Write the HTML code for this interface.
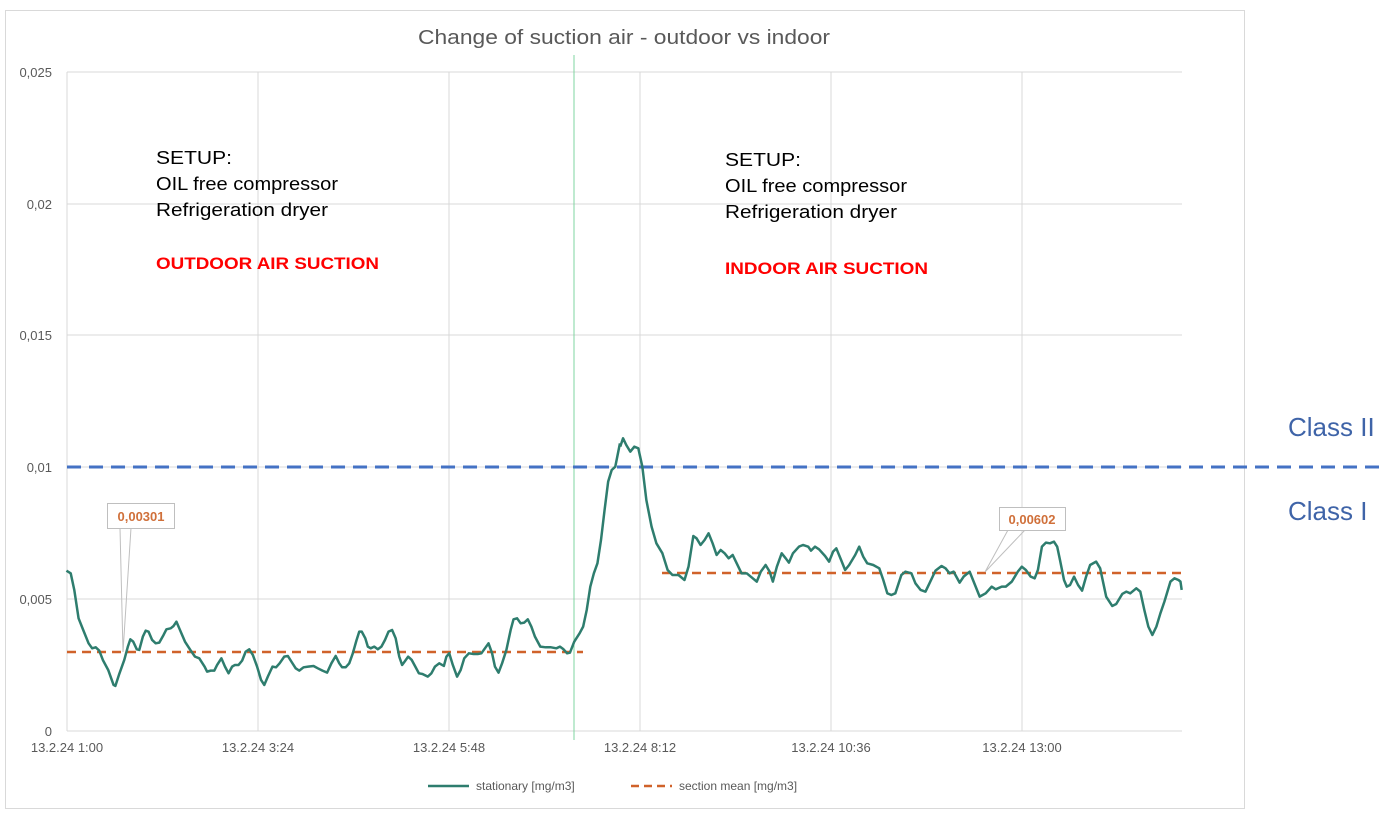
<!DOCTYPE html>
<html><head><meta charset="utf-8"><style>
body{margin:0;background:#fff;width:1390px;height:815px;overflow:hidden;font-family:"Liberation Sans",sans-serif}
</style></head><body>
<svg width="1390" height="815" xmlns="http://www.w3.org/2000/svg" font-family="Liberation Sans, sans-serif">
<rect x="5.5" y="10.5" width="1239" height="798" fill="#fff" stroke="#d9d9d9"/>
<text x="418" y="44" font-size="20" fill="#595959" textLength="412" lengthAdjust="spacingAndGlyphs">Change of suction air - outdoor vs indoor</text>
<g stroke="#d9d9d9" stroke-width="1">
<line x1="67" y1="72" x2="1182" y2="72"/><line x1="67" y1="204" x2="1182" y2="204"/><line x1="67" y1="335" x2="1182" y2="335"/><line x1="67" y1="467" x2="1182" y2="467"/><line x1="67" y1="599" x2="1182" y2="599"/><line x1="67" y1="731" x2="1182" y2="731"/>
<line x1="67" y1="72" x2="67" y2="731"/><line x1="258" y1="72" x2="258" y2="731"/><line x1="449" y1="72" x2="449" y2="731"/><line x1="640" y1="72" x2="640" y2="731"/><line x1="831" y1="72" x2="831" y2="731"/><line x1="1022" y1="72" x2="1022" y2="731"/>
</g>
<line x1="574" y1="55" x2="574" y2="740" stroke="#7fd4a0" stroke-width="1"/>
<g font-size="13" fill="#595959" text-anchor="end">
<text x="52" y="77">0,025</text><text x="52" y="209">0,02</text><text x="52" y="340">0,015</text><text x="52" y="472">0,01</text><text x="52" y="604">0,005</text><text x="52" y="736">0</text>
</g>
<g font-size="13" fill="#595959" text-anchor="middle">
<text x="67" y="752">13.2.24 1:00</text><text x="258" y="752">13.2.24 3:24</text><text x="449" y="752">13.2.24 5:48</text><text x="640" y="752">13.2.24 8:12</text><text x="831" y="752">13.2.24 10:36</text><text x="1022" y="752">13.2.24 13:00</text>
</g>
<line x1="67" y1="467" x2="1380" y2="467" stroke="#4472c4" stroke-width="3" stroke-dasharray="14,8"/>
<line x1="67" y1="652" x2="583" y2="652" stroke="#d0622a" stroke-width="2.5" stroke-dasharray="9,6"/>
<line x1="662" y1="573" x2="1182" y2="573" stroke="#d0622a" stroke-width="2.5" stroke-dasharray="9,6"/>
<g fill="none" stroke="#2e7d6e" stroke-width="2.5" stroke-linejoin="round">
<polyline vector-effect="non-scaling-stroke" transform="translate(60,400) scale(0.3571,0.3333)" points="18,512 30,520 40,570 52,655 65,690 80,730 90,745 100,742 110,752 120,780 135,810 150,855 155,858 165,825 180,780 190,740 197,718 205,725 215,748 222,750 232,710 240,692 248,695 258,720 268,730 278,728 290,705 298,688 310,685 318,678 326,665 334,685 342,705 350,725 365,750 378,770 390,775 405,800 412,815 422,812 432,812 440,795 452,775 462,800 472,820 482,800 490,795 500,795 510,782 520,755 530,748 540,765 552,800 563,840 572,855 582,830 595,800 605,802 615,790 628,770 638,768 648,785 660,805 670,812 682,802 695,800 710,798 722,805 735,812 748,818 760,790 772,768 782,790 790,802 800,802 810,790 820,760 830,722 838,695 845,695 855,715 862,740 870,745 880,740 890,748 900,740 910,720 920,695 930,690 940,715 950,770 958,795 965,785 975,770 985,780 995,800 1005,820 1015,822 1030,830 1040,820 1050,800 1062,790 1075,798 1082,770 1090,760 1100,795 1112,830 1122,810 1132,775 1145,760 1158,762 1170,762 1180,760 1190,745 1200,730 1210,760 1218,800 1228,818 1238,790 1250,750 1262,690 1270,658 1280,655 1290,670 1300,668 1310,658 1320,680 1330,710 1345,740 1360,742 1375,742 1390,745 1400,740 1410,748 1420,760 1428,758 1440,725 1455,700 1465,680 1475,630 1485,560 1495,520 1505,490 1515,420 1525,330 1535,245 1545,210 1555,200 1568,130"/>
<polyline vector-effect="non-scaling-stroke" transform="translate(560,400) scale(0.4016,0.3333)" points="150,140 157,115 165,135 175,155 185,140 195,145 205,200 215,300 228,380 240,430 255,460 268,510 280,525 295,525 310,540 320,500 332,408 340,415 350,435 360,420 370,400 380,430 390,465 400,450 410,460 420,475 430,465 440,490 452,520 465,520 480,535 490,545 500,515 512,495 522,515 530,545 540,500 552,460 562,475 570,488 580,460 595,440 605,435 618,440 625,452 635,440 645,448 660,468 670,485 680,455 688,445 700,480 710,510 720,495 735,465 745,440 755,470 765,490 780,495 795,505 805,540 815,580 825,585 835,580 850,525 860,515 875,520 885,550 898,570 910,575 920,550 935,512 950,498 960,505 970,520 980,515 995,548 1005,530 1020,515 1030,545 1045,590 1060,580 1075,560 1085,568 1100,560 1110,560 1125,545 1140,515 1150,500 1160,510 1172,530 1182,535 1190,510 1200,440 1210,428 1220,430 1230,425 1238,440 1245,480 1255,540 1262,560 1270,555 1280,530 1290,555 1300,572 1310,530 1320,495 1335,485 1345,505 1360,590 1375,618 1385,612 1400,582 1410,575 1420,580 1435,565 1445,575 1455,630 1465,680 1475,705 1485,680 1495,640 1505,605 1520,545 1530,535 1540,540 1545,545 1548,570"/>
</g>
<g stroke="#bfbfbf" fill="#fff">
<polyline points="120,528 123,652 131,528" fill="none"/>
<rect x="107.5" y="503.5" width="67" height="25"/>
<polyline points="1008,530 985,572 1025,530" fill="none"/>
<rect x="999.5" y="507.5" width="66" height="23"/>
</g>
<text x="141" y="521" font-size="13" font-weight="bold" fill="#d0703a" text-anchor="middle">0,00301</text>
<text x="1032" y="524" font-size="13" font-weight="bold" fill="#d0703a" text-anchor="middle">0,00602</text>
<g font-size="18" fill="#000">
<text x="156" y="164" textLength="76" lengthAdjust="spacingAndGlyphs">SETUP:</text><text x="156" y="190" textLength="182" lengthAdjust="spacingAndGlyphs">OIL free compressor</text><text x="156" y="216" textLength="172" lengthAdjust="spacingAndGlyphs">Refrigeration dryer</text>
<text x="725" y="166" textLength="76" lengthAdjust="spacingAndGlyphs">SETUP:</text><text x="725" y="192" textLength="182" lengthAdjust="spacingAndGlyphs">OIL free compressor</text><text x="725" y="218" textLength="172" lengthAdjust="spacingAndGlyphs">Refrigeration dryer</text>
</g>
<text x="156" y="269" font-size="17" font-weight="bold" fill="#ff0000" textLength="223" lengthAdjust="spacingAndGlyphs">OUTDOOR AIR SUCTION</text>
<text x="725" y="274" font-size="17" font-weight="bold" fill="#ff0000" textLength="203" lengthAdjust="spacingAndGlyphs">INDOOR AIR SUCTION</text>
<text x="1288" y="436" font-size="26" fill="#3f64a8">Class II</text>
<text x="1288" y="520" font-size="26" fill="#3f64a8">Class I</text>
<line x1="428" y1="786" x2="469" y2="786" stroke="#2e7d6e" stroke-width="2.5"/>
<text x="476" y="790" font-size="12" fill="#595959">stationary [mg/m3]</text>
<line x1="631" y1="786" x2="672" y2="786" stroke="#d0622a" stroke-width="2.5" stroke-dasharray="8,5"/>
<text x="679" y="790" font-size="12" fill="#595959">section mean [mg/m3]</text>
</svg>
</body></html>
